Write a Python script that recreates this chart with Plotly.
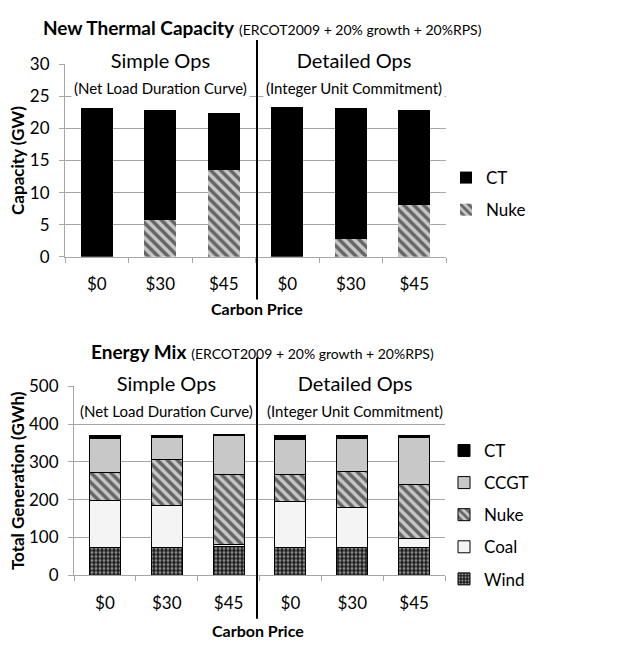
import plotly.graph_objects as go

W, H = 631, 651

categories = ["$0", "$30", "$45", "$0", "$30", "$45"]

# Top chart: New Thermal Capacity (GW)
cap_nuke = [0.0, 5.8, 13.5, 0.0, 2.7, 8.1]
cap_ct = [23.2, 17.1, 8.9, 23.3, 20.5, 14.8]

# Bottom chart: Energy Mix (GWh)
gen_wind = [74, 74, 76, 74, 74, 74]
gen_coal = [125, 110, 6, 120, 106, 24]
gen_nuke = [73, 123, 185, 72, 95, 142]
gen_ccgt = [90, 58, 102, 93, 88, 125]
gen_ct = [7, 4, 3, 11, 7, 5]

FONT = "Lato"
GRID = "#a6a6a6"

def px(x):
    return x / W

def py(y):
    return 1 - y / H

xs = list(range(len(categories)))

fig = go.Figure()

nuke_pattern = dict(shape="\\", fgcolor="black", bgcolor="#c8c8c8", size=7, solidity=0.5)
wind_pattern = dict(shape=".", fgcolor="#ffffff", bgcolor="#1a1a1a", size=4, solidity=0.45)
line = dict(color="black", width=1)

# ---- top chart ----
fig.add_trace(go.Bar(x=xs, y=cap_nuke, name="Nuke", xaxis="x", yaxis="y",
                     marker=dict(color="#c8c8c8", pattern=nuke_pattern, line=dict(width=0)),
                     legend="legend", legendgroup="t_nuke", legendrank=2, width=0.5))
fig.add_trace(go.Bar(x=xs, y=cap_ct, name="CT", xaxis="x", yaxis="y",
                     marker=dict(color="black", line=dict(width=0)),
                     legend="legend", legendgroup="t_ct", legendrank=1, width=0.5))

# ---- bottom chart ----
fig.add_trace(go.Bar(x=xs, y=gen_wind, name="Wind", xaxis="x2", yaxis="y2",
                     marker=dict(color="#1a1a1a", pattern=wind_pattern, line=line),
                     legend="legend2", legendgroup="b_wind", legendrank=5, width=0.5))
fig.add_trace(go.Bar(x=xs, y=gen_coal, name="Coal", xaxis="x2", yaxis="y2",
                     marker=dict(color="#f4f4f4", line=line),
                     legend="legend2", legendgroup="b_coal", legendrank=4, width=0.5))
fig.add_trace(go.Bar(x=xs, y=gen_nuke, name="Nuke", xaxis="x2", yaxis="y2",
                     marker=dict(color="#c8c8c8", pattern=nuke_pattern, line=line),
                     legend="legend2", legendgroup="b_nuke", legendrank=3, width=0.5))
fig.add_trace(go.Bar(x=xs, y=gen_ccgt, name="CCGT", xaxis="x2", yaxis="y2",
                     marker=dict(color="#c8c8c8", line=line),
                     legend="legend2", legendgroup="b_ccgt", legendrank=2, width=0.5))
fig.add_trace(go.Bar(x=xs, y=gen_ct, name="CT", xaxis="x2", yaxis="y2",
                     marker=dict(color="black", line=line),
                     legend="legend2", legendgroup="b_ct", legendrank=1, width=0.5))

xaxis_common = dict(
    range=[-0.5, 5.5], tickmode="array", tickvals=xs, ticktext=categories,
    ticks="", showgrid=False, zeroline=False, showline=True, linecolor=GRID, linewidth=1,
    tickfont=dict(family=FONT, size=17, color="black"), ticklabelstandoff=12,
    minor=dict(tickmode="array", tickvals=[i - 0.5 for i in range(7)], ticks="outside",
               ticklen=5, tickcolor=GRID, showgrid=False),
    fixedrange=True,
)
yaxis_common = dict(
    showgrid=True, gridcolor=GRID, gridwidth=1, zeroline=False, showline=True,
    linecolor=GRID, linewidth=1, ticks="outside", ticklen=5, tickcolor=GRID,
    tickfont=dict(family=FONT, size=17, color="black"), ticklabelstandoff=6,
    fixedrange=True,
)

fig.update_layout(
    width=W, height=H,
    margin=dict(l=0, r=0, t=0, b=0),
    paper_bgcolor="white", plot_bgcolor="white",
    barmode="stack",
    font=dict(family=FONT, color="black"),
    xaxis=dict(domain=[px(65), px(446)], anchor="y", **xaxis_common),
    yaxis=dict(domain=[py(254), py(55)], anchor="x", range=[0, 30], dtick=5,
               title=dict(text="<b>Capacity (GW)</b>", font=dict(family=FONT, size=17), standoff=0),
               **yaxis_common),
    xaxis2=dict(domain=[px(74), px(445)], anchor="y2", **xaxis_common),
    yaxis2=dict(domain=[py(583), py(388)], anchor="x2", range=[0, 500], dtick=100,
                title=dict(text="<b>Total Generation (GWh)</b>", font=dict(family=FONT, size=17), standoff=0),
                **yaxis_common),
    legend=dict(x=px(446), y=py(154), xanchor="left", yanchor="top",
                traceorder="grouped", tracegroupgap=7,
                font=dict(family=FONT, size=17), bgcolor="rgba(0,0,0,0)"),
    legend2=dict(x=px(444), y=py(436), xanchor="left", yanchor="top",
                 traceorder="grouped", tracegroupgap=7,
                 font=dict(family=FONT, size=17), bgcolor="rgba(0,0,0,0)"),
    bargap=0.5,
)

annotations = [
    dict(text="<b>New Thermal Capacity</b> <span style='font-size:14px'>(ERCOT2009 + 20% growth + 20%RPS)</span>",
         x=px(262), y=py(17), xref="paper", yref="paper", showarrow=False,
         font=dict(family=FONT, size=19), xanchor="center", yanchor="middle"),
    dict(text="<b>Energy Mix</b> <span style='font-size:14px'>(ERCOT2009 + 20% growth + 20%RPS)</span>",
         x=px(262), y=py(352), xref="paper", yref="paper", showarrow=False,
         font=dict(family=FONT, size=19), xanchor="center", yanchor="middle"),
    dict(text="<b>Carbon Price</b>", x=px(257), y=py(307), xref="paper", yref="paper",
         showarrow=False, font=dict(family=FONT, size=16), xanchor="center", yanchor="middle"),
    dict(text="<b>Carbon Price</b>", x=px(258), y=py(640), xref="paper", yref="paper",
         showarrow=False, font=dict(family=FONT, size=16), xanchor="center", yanchor="middle"),
]
for xref, yc, in [("x", 64), ("x2", 397)]:
    annotations.append(dict(
        text="Simple Ops<br><span style='font-size:15px'>(Net Load Duration Curve)</span>",
        x=1, y=py(yc), xref=xref, yref="paper", showarrow=False,
        font=dict(family=FONT, size=20), xanchor="center", yanchor="middle",
        bgcolor="white", borderpad=2))
    annotations.append(dict(
        text="Detailed Ops<br><span style='font-size:15px'>(Integer Unit Commitment)</span>",
        x=4.05, y=py(yc), xref=xref, yref="paper", showarrow=False,
        font=dict(family=FONT, size=20), xanchor="center", yanchor="middle",
        bgcolor="white", borderpad=2))
fig.update_layout(annotations=annotations)

fig.add_shape(type="line", xref="paper", yref="paper", x0=px(257), x1=px(257),
              y0=py(30), y1=py(298), line=dict(color="black", width=2))
fig.add_shape(type="line", xref="paper", yref="paper", x0=px(257), x1=px(257),
              y0=py(358), y1=py(628), line=dict(color="black", width=2))

fig.write_html("out.html", config={"displayModeBar": False},
               post_script="document.body.style.margin='0';")
